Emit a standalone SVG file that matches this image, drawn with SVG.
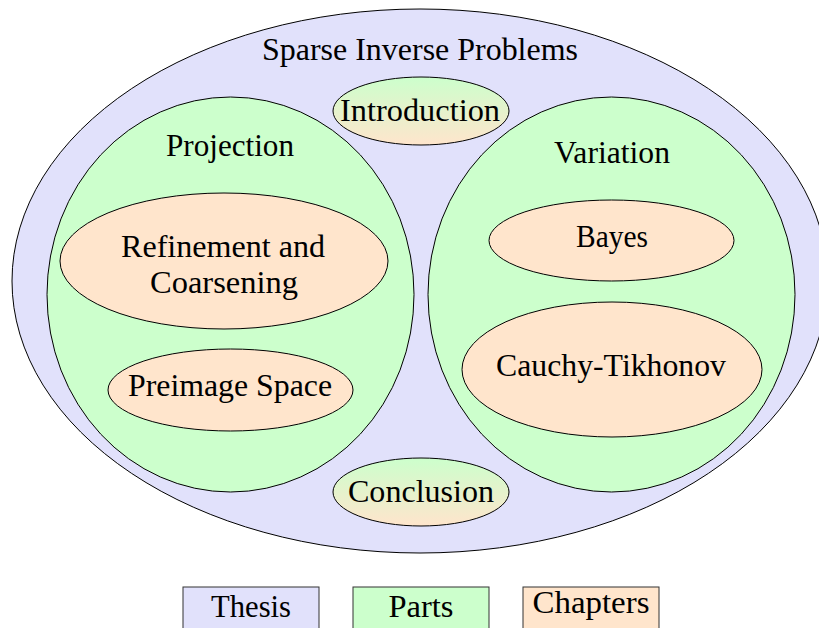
<svg xmlns="http://www.w3.org/2000/svg" width="819" height="628" viewBox="0 0 819 628">
  <defs>
    <linearGradient id="partChapter" x1="0" y1="0" x2="0" y2="1">
      <stop offset="0" stop-color="#ccffcc"/>
      <stop offset="1" stop-color="#ffe5cc"/>
    </linearGradient>
    <style>
      .thesis { fill: #e1e1fb; stroke: #000; stroke-width: 1; }
      .part { fill: #ccffcc; stroke: #000; stroke-width: 1; }
      .chapter { fill: #ffe5cc; stroke: #000; stroke-width: 1; }
      .bridge { fill: url(#partChapter); stroke: #000; stroke-width: 1; }
      .key { stroke: #333; stroke-width: 1; }
      text { font-family: "Liberation Serif", "DejaVu Serif", serif; font-size: 31px; fill: #000; text-anchor: middle; }
    </style>
  </defs>

  <g id="thesis">
    <ellipse class="thesis" cx="420" cy="281" rx="408" ry="272"/>
    <text x="420" y="60" textLength="316" lengthAdjust="spacingAndGlyphs">Sparse Inverse Problems</text>
  </g>

  <g id="introduction">
    <ellipse class="bridge" cx="421" cy="111" rx="88" ry="34"/>
    <text x="420" y="121" textLength="160" lengthAdjust="spacingAndGlyphs">Introduction</text>
  </g>

  <g id="projection">
    <ellipse class="part" cx="230.5" cy="294.5" rx="183.5" ry="197.5"/>
    <text x="230" y="156" textLength="128" lengthAdjust="spacingAndGlyphs">Projection</text>
  </g>

  <g id="variation">
    <ellipse class="part" cx="611.5" cy="294.5" rx="183.5" ry="197.5"/>
    <text x="612" y="163" textLength="116" lengthAdjust="spacingAndGlyphs">Variation</text>
  </g>

  <g id="refinement">
    <ellipse class="chapter" cx="224" cy="261" rx="164" ry="68"/>
    <text x="223" y="257" textLength="204" lengthAdjust="spacingAndGlyphs">Refinement and</text>
    <text x="224" y="293" textLength="148" lengthAdjust="spacingAndGlyphs">Coarsening</text>
  </g>

  <g id="preimage">
    <ellipse class="chapter" cx="230.5" cy="390" rx="122.5" ry="41"/>
    <text x="230" y="396" textLength="204" lengthAdjust="spacingAndGlyphs">Preimage Space</text>
  </g>

  <g id="bayes">
    <ellipse class="chapter" cx="611.5" cy="240.5" rx="122.5" ry="40.5"/>
    <text x="612" y="247" textLength="72" lengthAdjust="spacingAndGlyphs">Bayes</text>
  </g>

  <g id="cauchy">
    <ellipse class="chapter" cx="612" cy="369.5" rx="150" ry="67.5"/>
    <text x="611" y="376" textLength="230" lengthAdjust="spacingAndGlyphs">Cauchy-Tikhonov</text>
  </g>

  <g id="conclusion">
    <ellipse class="bridge" cx="421" cy="492" rx="88" ry="34"/>
    <text x="421" y="502" textLength="146" lengthAdjust="spacingAndGlyphs">Conclusion</text>
  </g>

  <g id="legend-thesis">
    <rect class="key" x="183" y="587" width="136" height="50" fill="#e1e1fb"/>
    <text x="251" y="617" textLength="80" lengthAdjust="spacingAndGlyphs">Thesis</text>
  </g>
  <g id="legend-parts">
    <rect class="key" x="353" y="587" width="136" height="50" fill="#ccffcc"/>
    <text x="421" y="617" textLength="65" lengthAdjust="spacingAndGlyphs">Parts</text>
  </g>
  <g id="legend-chapters">
    <rect class="key" x="523" y="587" width="136" height="50" fill="#ffe5cc"/>
    <text x="591" y="613" textLength="117" lengthAdjust="spacingAndGlyphs">Chapters</text>
  </g>

  <g id="connectors"/>
</svg>
